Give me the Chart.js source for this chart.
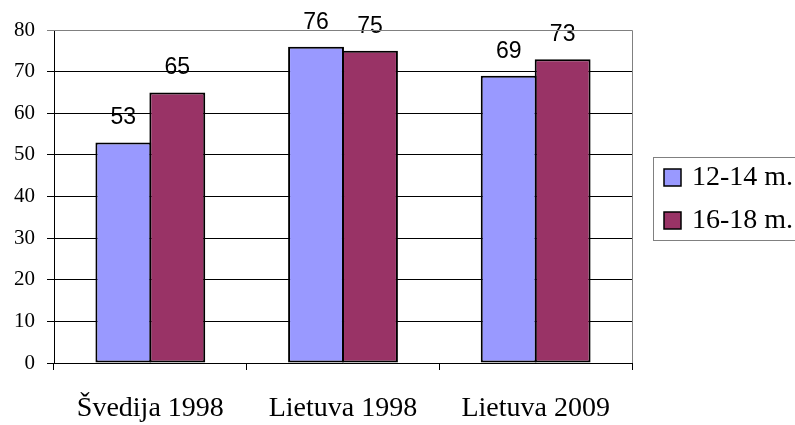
<!DOCTYPE html>
<html>
<head>
<meta charset="utf-8">
<script src="https://cdn.jsdelivr.net/npm/chart.js@4"></script>
<style>
  html, body { margin: 0; padding: 0; background: #fff; }
  #wrap { width: 795px; height: 425px; position: relative; }
</style>
</head>
<body>
<div id="wrap"><canvas id="c" width="795" height="425"></canvas></div>
<script>
// Survey chart — two age groups by country/year
const categories = ['Švedija 1998', 'Lietuva 1998', 'Lietuva 2009'];
const seriesNames = ['12-14 m.', '16-18 m.'];
const young = [53, 76, 69];
const older = [65, 75, 73];
const yTicks = [0, 10, 20, 30, 40, 50, 60, 70, 80];

const BLUE = '#9999ff';
const PLUM = '#993366';

// value labels above each bar
const valueLabels = {
  id: 'valueLabels',
  afterDatasetsDraw(chart) {
    const ctx = chart.ctx;
    ctx.save();
    ctx.font = '23px "Liberation Sans", Arial, sans-serif';
    ctx.fillStyle = '#000';
    ctx.textAlign = 'center';
    ctx.textBaseline = 'alphabetic';
    chart.data.datasets.forEach((ds, i) => {
      chart.getDatasetMeta(i).data.forEach((bar, j) => {
        ctx.fillText(String(ds.data[j]), bar.x, bar.y - 18);
      });
    });
    ctx.restore();
  }
};

// plot frame (top/right gray border) + legend box on the right
const frameAndLegend = {
  id: 'frameAndLegend',
  afterDraw(chart) {
    const ctx = chart.ctx;
    const a = chart.chartArea;
    ctx.save();
    ctx.strokeStyle = '#808080';
    ctx.lineWidth = 1;
    ctx.beginPath();
    ctx.moveTo(a.left, a.top + 0.5);
    ctx.lineTo(a.right + 0.5, a.top + 0.5);
    ctx.lineTo(a.right + 0.5, a.bottom);
    ctx.stroke();

    // legend
    const lx = 653.5, ly = 157.5;
    ctx.strokeRect(lx, ly, 200, 83);
    ctx.font = '28px "Liberation Serif", "Times New Roman", serif';
    ctx.textAlign = 'left';
    ctx.textBaseline = 'middle';
    chart.data.datasets.forEach((ds, i) => {
      const cy = 177 + i * 43;
      ctx.fillStyle = ds.backgroundColor;
      ctx.fillRect(664, cy - 8, 17, 17);
      ctx.strokeStyle = '#000';
      ctx.lineWidth = 1.5;
      ctx.strokeRect(664, cy - 8, 17, 17);
      ctx.fillStyle = '#000';
      ctx.fillText(ds.label, 692, cy + 1);
    });
    ctx.restore();
  }
};

new Chart(document.getElementById('c'), {
  type: 'bar',
  data: {
    labels: categories,
    datasets: [
      { label: seriesNames[0], data: young, backgroundColor: BLUE, borderColor: '#000', borderWidth: 2 },
      { label: seriesNames[1], data: older, backgroundColor: PLUM, borderColor: '#000', borderWidth: 2 }
    ]
  },
  options: {
    responsive: false,
    animation: false,
    devicePixelRatio: 1,
    layout: { padding: { top: 30, right: 163, left: 0, bottom: 0 } },
    // bars slightly wider than their slot so neighbours share one border line
    datasets: { bar: { barPercentage: 1.036, categoryPercentage: 0.56, borderSkipped: false } },
    plugins: { legend: { display: false }, tooltip: { enabled: false } },
    scales: {
      x: {
        afterFit: s => { s.height = 62; },
        grid: { drawOnChartArea: false, drawTicks: true, tickLength: 7, color: '#000', offset: true },
        border: { color: '#000' },
        ticks: {
          color: '#000',
          padding: 22,
          font: { family: '"Liberation Serif", "Times New Roman", serif', size: 28 }
        }
      },
      y: {
        min: 0,
        max: 80,
        afterFit: s => { s.width = 54; },
        afterBuildTicks: s => { s.ticks = yTicks.map(v => ({ value: v })); },
        grid: {
          color: ctx => (ctx.tick && ctx.tick.value === 80 ? '#808080' : '#000'),
          tickLength: 7
        },
        border: { color: '#000' },
        ticks: {
          color: '#000',
          padding: 12,
          font: { family: '"Liberation Serif", "Times New Roman", serif', size: 21 }
        }
      }
    }
  },
  plugins: [valueLabels, frameAndLegend]
});
</script>
</body>
</html>
